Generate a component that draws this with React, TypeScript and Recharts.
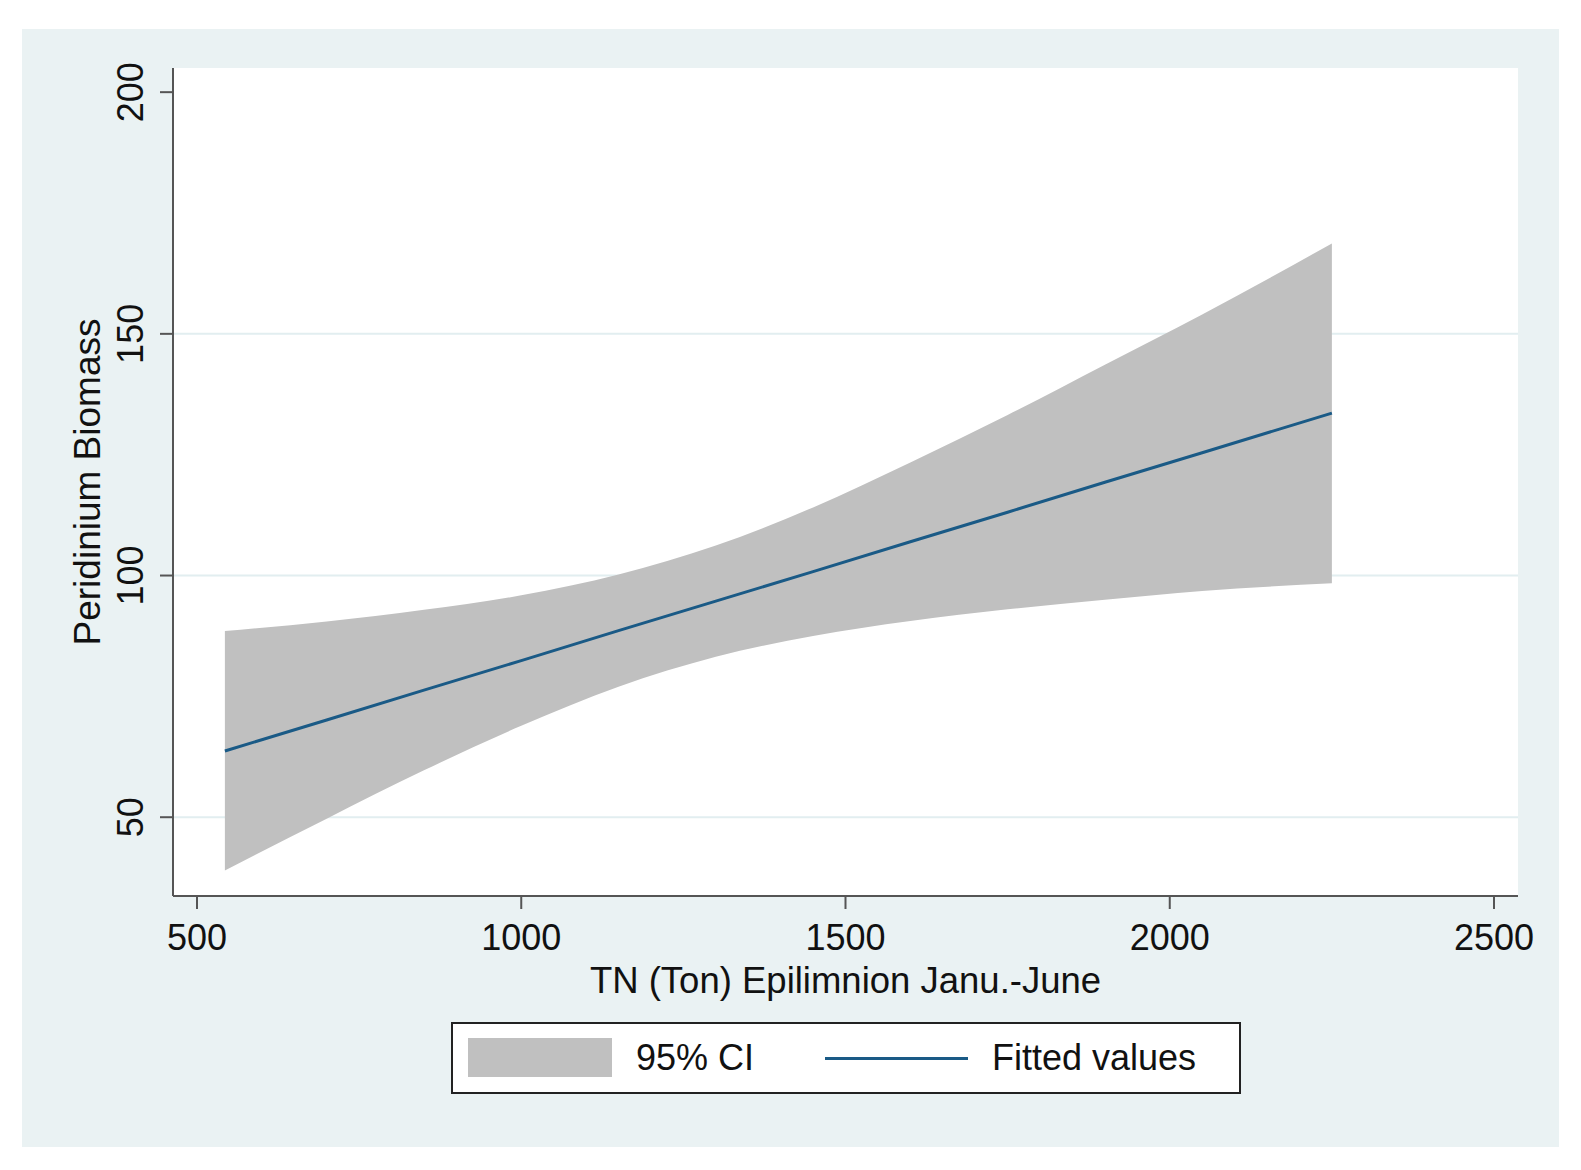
import React from 'react';
import { ComposedChart, Area, Line, XAxis, YAxis, CartesianGrid, Legend, Label } from 'recharts';

// values
const xValues = [543, 700, 850, 1000, 1150, 1300, 1450, 1600, 1750, 1900, 2050, 2250];
const fitted = [63.7, 70.1, 76.3, 82.4, 88.6, 94.7, 100.8, 107.0, 113.1, 119.3, 125.4, 133.6];
const ciUpper = [88.5, 90.5, 92.9, 95.9, 100.2, 106.2, 114.1, 123.4, 133.2, 143.6, 154.0, 168.7];
const ciLower = [39.0, 49.7, 59.7, 68.9, 77.0, 83.2, 87.5, 90.6, 93.0, 95.0, 96.8, 98.4];
const xTicks = [500, 1000, 1500, 2000, 2500];
const yTicks = [50, 100, 150, 200];
const gridValues = [50, 100, 150];

const data = xValues.map((x, i) => ({ x, fit: fitted[i], ci: [ciLower[i], ciUpper[i]] }));

const FONT = '"Liberation Sans", Arial, Helvetica, sans-serif';
const AXIS = '#555';
const BAND = '#c0c0c0';
const NAVY = '#1a5a86';

function XTick({ x, y, payload }: any) {
  return (
    <text x={x} y={y} dy={39} textAnchor="middle" fontSize={36} fontFamily={FONT} fill="#111">
      {payload.value}
    </text>
  );
}

function YTick({ x, y, payload }: any) {
  return (
    <text transform={`translate(${x - 15},${y}) rotate(-90)`} textAnchor="middle" fontSize={36} fontFamily={FONT} fill="#111">
      {payload.value}
    </text>
  );
}

function LegendBox() {
  return (
    <div
      style={{
        width: 790,
        height: 72,
        boxSizing: 'border-box',
        border: '2px solid #222',
        background: '#fff',
        position: 'relative',
        fontFamily: FONT,
        fontSize: 36,
        color: '#111',
      }}
    >
      <div style={{ position: 'absolute', left: 15, top: 14, width: 144, height: 39, background: BAND }} />
      <div style={{ position: 'absolute', left: 183, top: 12, lineHeight: '44px' }}>95% CI</div>
      <div style={{ position: 'absolute', left: 372, top: 33, width: 143, height: 3, background: NAVY }} />
      <div style={{ position: 'absolute', left: 539, top: 12, lineHeight: '44px' }}>Fitted values</div>
    </div>
  );
}

export default function App() {
  return (
    <div style={{ paddingLeft: 14, paddingTop: 21 }}>
      <div style={{ width: 1537, height: 1118, background: '#eaf2f3', position: 'relative' }}>
        <ComposedChart
          width={1537}
          height={1118}
          data={data}
          margin={{ top: 39, right: 41, bottom: 191, left: 71 }}
        >
          <CartesianGrid
            vertical={false}
            horizontalValues={gridValues}
            stroke="#e2eef0"
            strokeWidth={2}
            fill="#ffffff"
            fillOpacity={1}
          />
          <XAxis
            type="number"
            dataKey="x"
            domain={[463, 2537]}
            ticks={xTicks}
            allowDataOverflow
            height={60}
            tickSize={13}
            axisLine={{ stroke: AXIS, strokeWidth: 2 }}
            tickLine={{ stroke: AXIS, strokeWidth: 2 }}
            tick={<XTick />}
          >
            <Label
              content={({ viewBox }: any) => (
                <text
                  x={viewBox.x + viewBox.width / 2}
                  y={964}
                  textAnchor="middle"
                  fontSize={36.5}
                  fontFamily={FONT}
                  fill="#111"
                >
                  TN (Ton) Epilimnion Janu.-June
                </text>
              )}
            />
          </XAxis>
          <YAxis
            type="number"
            domain={[33.7, 205]}
            ticks={yTicks}
            allowDataOverflow
            width={80}
            tickSize={13}
            axisLine={{ stroke: AXIS, strokeWidth: 2 }}
            tickLine={{ stroke: AXIS, strokeWidth: 2 }}
            tick={<YTick />}
          >
            <Label
              content={({ viewBox }: any) => (
                <text
                  transform={`translate(78,${viewBox.y + viewBox.height / 2}) rotate(-90)`}
                  textAnchor="middle"
                  fontSize={37}
                  fontFamily={FONT}
                  fill="#111"
                >
                  Peridinium Biomass
                </text>
              )}
            />
          </YAxis>
          <Area
            type="monotone"
            dataKey="ci"
            name="95% CI"
            fill={BAND}
            fillOpacity={1}
            stroke="none"
            isAnimationActive={false}
          />
          <Line
            type="linear"
            dataKey="fit"
            name="Fitted values"
            stroke={NAVY}
            strokeWidth={3}
            dot={false}
            isAnimationActive={false}
          />
          <Legend
            layout="vertical"
            align="center"
            verticalAlign="middle"
            wrapperStyle={{ left: 429, top: 993, width: 790, height: 72 }}
            content={() => <LegendBox />}
          />
        </ComposedChart>
      </div>
    </div>
  );
}
